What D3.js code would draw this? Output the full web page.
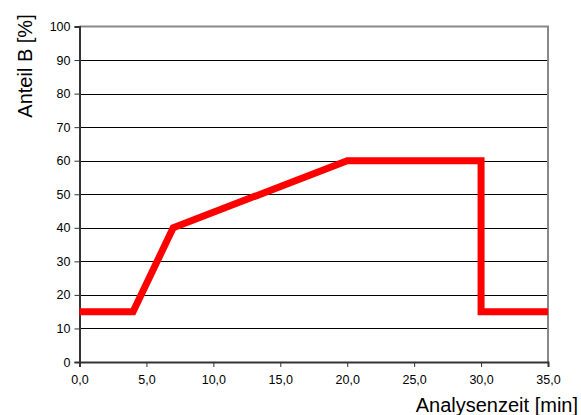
<!DOCTYPE html>
<html>
<head>
<meta charset="utf-8">
<script src="https://cdn.jsdelivr.net/npm/d3@7"></script>
<style>
  html, body { margin: 0; padding: 0; background: #fff; }
  svg { display: block; font-family: "Liberation Sans", Arial, sans-serif; }
</style>
</head>
<body>
<svg id="chart" width="581" height="415"></svg>
<script>
// Gradient program: time [min] and share of eluent B [%]
const timeMin = [0, 4, 7, 20, 30, 30, 35];
const shareB  = [15, 15, 40, 60, 60, 15, 15];
const xTicks = [0, 5, 10, 15, 20, 25, 30, 35];
const yTicks = [0, 10, 20, 30, 40, 50, 60, 70, 80, 90, 100];

const svg = d3.select("#chart");
const plotLeft = 79.5, plotRight = 548, plotTop = 26.5, plotBottom = 362;

const x = d3.scaleLinear().domain([0, 35]).range([plotLeft, plotRight]);
const y = d3.scaleLinear().domain([0, 100]).range([plotBottom, plotTop]);
const fmt = d => d3.format(".1f")(d).replace(".", ",");

// horizontal gridlines
svg.append("g")
  .selectAll("line")
  .data(yTicks.filter(d => d > 0 && d < 100))
  .join("line")
  .attr("x1", plotLeft).attr("x2", plotRight)
  .attr("y1", d => Math.round(y(d)) + 0.5).attr("y2", d => Math.round(y(d)) + 0.5)
  .attr("stroke", "#000").attr("stroke-width", 1);

// gray frame on top and right
svg.append("path")
  .attr("d", `M${plotLeft},${plotTop} H${plotRight} V${plotBottom}`)
  .attr("fill", "none").attr("stroke", "#888").attr("stroke-width", 2);

// y axis
const yAxis = svg.append("g")
  .attr("transform", `translate(${plotLeft},0)`)
  .call(d3.axisLeft(y).tickValues(yTicks).tickSize(5).tickPadding(4).tickFormat(d3.format("d")));
yAxis.select(".domain").attr("stroke", "#333").attr("stroke-width", 2);
yAxis.selectAll(".tick line").attr("stroke", "#333");
yAxis.selectAll("text").attr("font-size", 12.5).attr("fill", "#000")
  .attr("font-family", "Liberation Sans, Arial, sans-serif");

// x axis
const xAxis = svg.append("g")
  .attr("transform", `translate(0,${plotBottom})`)
  .call(d3.axisBottom(x).tickValues(xTicks).tickSize(5).tickPadding(8).tickFormat(fmt));
xAxis.select(".domain").attr("stroke", "#333").attr("stroke-width", 2);
xAxis.selectAll(".tick line").attr("stroke", "#333");
xAxis.selectAll("text").attr("font-size", 12.5).attr("fill", "#000")
  .attr("font-family", "Liberation Sans, Arial, sans-serif");

// gradient line
const line = d3.line().x((d, i) => x(timeMin[i])).y((d, i) => y(shareB[i]));
svg.append("path")
  .datum(timeMin)
  .attr("d", line)
  .attr("fill", "none")
  .attr("stroke", "#ff0000")
  .attr("stroke-width", 7)
  .attr("stroke-linejoin", "miter");

// axis titles
svg.append("text")
  .attr("x", 578).attr("y", 412)
  .attr("text-anchor", "end")
  .attr("font-size", 20)
  .text("Analysenzeit [min]");

svg.append("text")
  .attr("transform", "translate(31.5,66) rotate(-90)")
  .attr("text-anchor", "middle")
  .attr("font-size", 20)
  .text("Anteil B [%]");
</script>
</body>
</html>
